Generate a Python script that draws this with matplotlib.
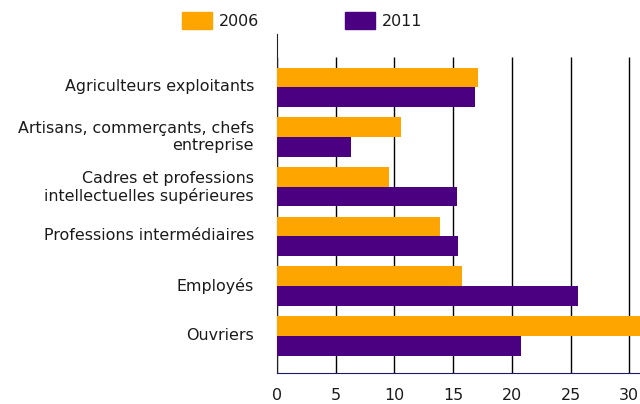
import matplotlib
matplotlib.use("Agg")
import matplotlib.pyplot as plt
import matplotlib.transforms as mtransforms
from matplotlib.patches import Patch

# données
categories = ["Agriculteurs exploitants",
              "Artisans, commerçants, chefs\nentreprise",
              "Cadres et professions\nintellectuelles supérieures",
              "Professions intermédiaires",
              "Employés",
              "Ouvriers"]
val_2006 = [17.1, 10.6, 9.5, 13.9, 15.8, 31.5]
val_2011 = [16.9, 6.3, 15.3, 15.4, 25.6, 20.8]
xticks = [0, 5, 10, 15, 20, 25, 30]

c2006 = "#FFA500"
c2011 = "#4B0082"

plt.rcParams['font.family'] = 'DejaVu Sans'
plt.rcParams['font.size'] = 11.4
plt.rcParams['text.color'] = '#1a1a1a'
plt.rcParams['xtick.labelcolor'] = '#1a1a1a'
plt.rcParams['ytick.labelcolor'] = '#1a1a1a'

fig = plt.figure(figsize=(6.4, 4.04), dpi=100)
ax = fig.add_axes([277/640, 1 - 373/404, 1 - 277/640, (373 - 34)/404])

n = len(categories)
ypos = [n - 1 - i for i in range(n)]
h = 0.396

ax.barh([y + h/2 for y in ypos], val_2006, height=h, color=c2006, zorder=3)
ax.barh([y - h/2 for y in ypos], val_2011, height=h, color=c2011, zorder=3)

ymin, ymax = -0.745, n - 1 + 1.07
ax.vlines(xticks, ymin, n - 1 + 0.61, colors="black", linewidth=1, zorder=1)

ax.set_xlim(0, (640 - 277) / 11.74)
ax.set_ylim(ymin, ymax)
ax.set_xticks(xticks)
ax.set_yticks(ypos)
ax.set_yticklabels(categories, linespacing=1.15)
ax.tick_params(axis='y', length=0, pad=16.5)
ax.tick_params(axis='x', length=0, pad=11)

# remonter un peu les libellés
decal = mtransforms.ScaledTranslation(0, 2/100, fig.dpi_scale_trans)
for lab in ax.get_yticklabels():
    lab.set_transform(lab.get_transform() + decal)

for s in ["top", "right"]:
    ax.spines[s].set_visible(False)
ax.spines["left"].set_color("#222222")
ax.spines["bottom"].set_color("#1a1a6e")

handles = [Patch(color=c2006, label="2006"), Patch(color=c2011, label="2011")]
fig.legend(handles=handles, loc="upper center", ncol=2, frameon=False,
           bbox_to_anchor=(0.472, 1.005), handlelength=1.9, handleheight=1.25,
           columnspacing=5.4, handletextpad=0.45)

fig.savefig("out.png", dpi=100)
